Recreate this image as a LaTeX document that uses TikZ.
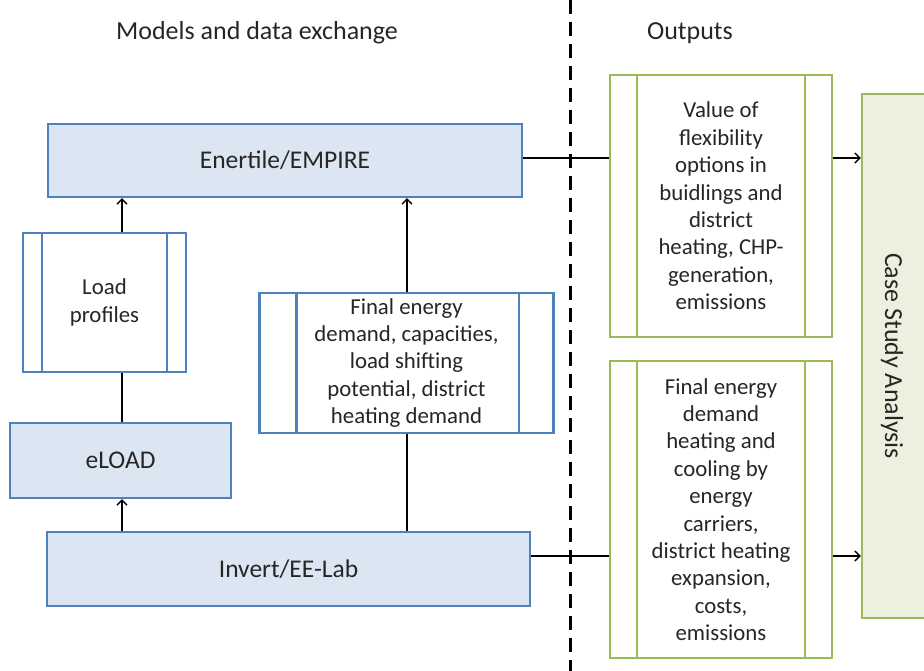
\documentclass[tikz,border=0pt]{standalone}
\usepackage{fontspec}
\setmainfont{Carlito}
\usetikzlibrary{arrows.meta}
\definecolor{bfill}{HTML}{DCE6F2}
\definecolor{bline}{HTML}{4F81BD}
\definecolor{gline}{HTML}{9BBB59}
\definecolor{gfill}{HTML}{EBF1DE}
\definecolor{txt}{HTML}{262626}
\newcommand{\dfont}{\fontsize{22.8}{27.4}\selectfont}
\newcommand{\bfont}{\fontsize{25.5}{30}\selectfont}
\newcommand{\hfont}{\fontsize{26}{30}\selectfont}
\begin{document}
\begin{tikzpicture}[x=1pt,y=-1pt,
  every node/.style={font=\dfont, text=txt, align=center},
  bbox/.style={draw=bline, line width=2.4pt, fill=bfill, inner sep=0pt, font=\bfont},
  pbox/.style={draw=bline, line width=2.4pt, fill=white, inner sep=0pt},
  gbox/.style={draw=gline, line width=2.4pt, fill=white, inner sep=0pt},
  cbox/.style={draw=gline, line width=2.4pt, fill=gfill, inner sep=0pt},
  conn/.style={line width=1.4pt, black},
  arr/.style={conn, -{Straight Barb[length=5pt,width=10pt,line width=1.4pt]}}]
\useasboundingbox (0,0) rectangle (924,671);

% headers
\node[font=\hfont] (h1) at (257,33) {Models and data exchange};
\node[font=\hfont] (h2) at (690,33) {Outputs};

% dashed separator
\coordinate (dtop) at (570,0);
\coordinate (dbot) at (570,671);
\draw[line width=3pt, dash pattern=on 14pt off 8pt] (dtop) -- (dbot);

% model boxes
\node[bbox, minimum width=474pt, minimum height=73pt] (ene) at (285,160.5) {Enertile/EMPIRE};
\node[pbox, minimum width=163pt, minimum height=139pt] (lp) at (104.5,302.5) {Load\\profiles};
\draw[bline, line width=2.4pt] ([xshift=20pt]lp.north west) -- ([xshift=20pt]lp.south west);
\draw[bline, line width=2.4pt] ([xshift=-20pt]lp.north east) -- ([xshift=-20pt]lp.south east);
\node[bbox, minimum width=221pt, minimum height=75pt] (el) at (120.5,460.5) {eLOAD};
\node[bbox, minimum width=483pt, minimum height=74pt] (inv) at (288.5,569) {Invert/EE-Lab};
\node[pbox, minimum width=294pt, minimum height=140pt] (fed) at (406.5,363) {Final energy\\demand, capacities,\\load shifting\\potential, district\\heating demand};
\draw[bline, line width=2.4pt] ([xshift=38pt]fed.north west) -- ([xshift=38pt]fed.south west);
\draw[bline, line width=2.4pt] ([xshift=-36pt]fed.north east) -- ([xshift=-36pt]fed.south east);

% output boxes
\node[cbox, minimum width=80pt, minimum height=524pt] (cs) at (902,356) {};
\node[rotate=-90, font=\hfont] (cst) at (892,356) {Case Study Analysis};
\node[gbox, minimum width=222pt, minimum height=262pt] (val) at (721,206) {Value of\\flexibility\\options in\\buidlings and\\district\\heating, CHP-\\generation,\\emissions};
\draw[gline, line width=2.4pt] ([xshift=28pt]val.north west) -- ([xshift=28pt]val.south west);
\draw[gline, line width=2.4pt] ([xshift=-28pt]val.north east) -- ([xshift=-28pt]val.south east);
\node[gbox, minimum width=222pt, minimum height=297pt] (out) at (721,509.5) {Final energy\\demand\\heating and\\cooling by\\energy\\carriers,\\district heating\\expansion,\\costs,\\emissions};
\draw[gline, line width=2.4pt] ([xshift=28pt]out.north west) -- ([xshift=28pt]out.south west);
\draw[gline, line width=2.4pt] ([xshift=-28pt]out.north east) -- ([xshift=-28pt]out.south east);

% connectors
\draw[arr] (lp.north -| 122,0) -- (ene.south -| 122,0);
\draw[conn] (lp.south -| 122,0) -- (el.north -| 122,0);
\draw[arr] (inv.north -| 122,0) -- (el.south -| 122,0);
\draw[conn] (inv.north -| 407,0) -- (fed.south -| 407,0);
\draw[arr] (fed.north -| 407,0) -- (ene.south -| 407,0);
\draw[conn] (ene.east |- 0,158) -- (val.west |- 0,158);
\draw[arr] (val.east |- 0,158) -- (cs.west |- 0,158);
\draw[conn] (inv.east |- 0,556) -- (out.west |- 0,556);
\draw[arr] (out.east |- 0,556) -- (cs.west |- 0,556);
\end{tikzpicture}
\end{document}
